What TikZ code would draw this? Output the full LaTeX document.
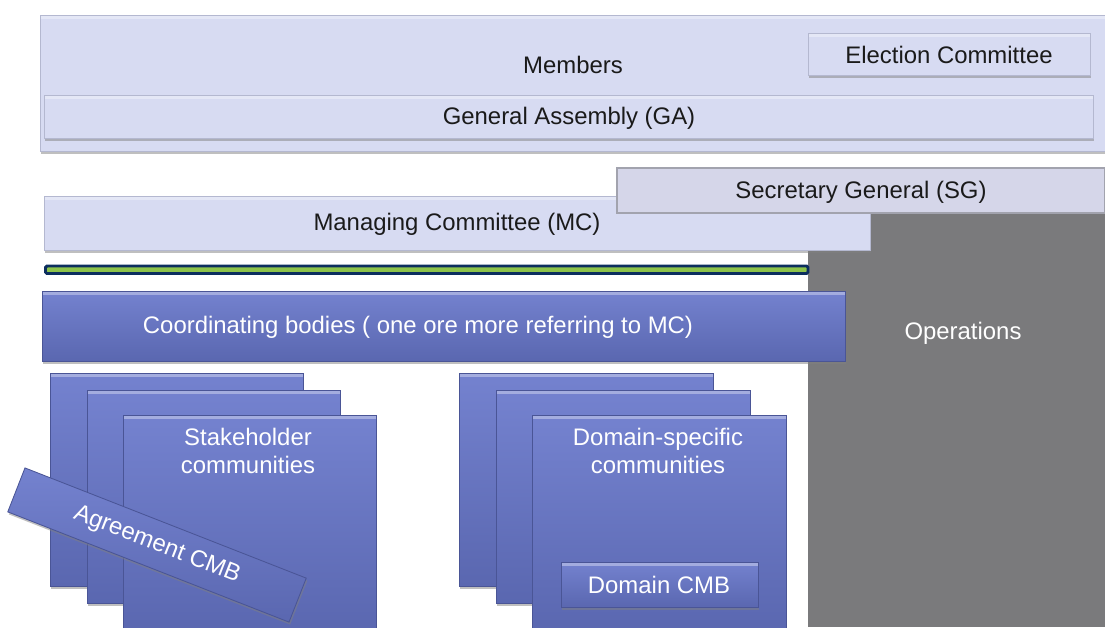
\documentclass[tikz,border=0pt]{standalone}
\usepackage{fontspec}
\setmainfont{Liberation Sans}
\usetikzlibrary{shadows}

\definecolor{lavfill}{HTML}{D7DBF2}
\definecolor{lavedge}{HTML}{B4B8D0}
\definecolor{sgfill}{HTML}{D5D6E9}
\definecolor{sgedge}{HTML}{A2A3AE}
\definecolor{bluetop}{HTML}{7482CF}
\definecolor{bluebot}{HTML}{5A67B0}
\definecolor{blueedge}{HTML}{4A5596}
\definecolor{opsgrey}{HTML}{7A7A7C}
\definecolor{linegreen}{HTML}{8DC34A}
\definecolor{linenavy}{HTML}{0C2E5E}
\definecolor{textdark}{HTML}{1A1A1A}

\tikzset{
  bevel/.style={path picture={
    \fill[white, opacity=0.35] (path picture bounding box.north west)
      rectangle ([yshift=-2.5pt]path picture bounding box.north east);}},
  lavbox/.style={fill=lavfill, draw=lavedge, line width=0.6pt, bevel,
    drop shadow={shadow xshift=0.8pt, shadow yshift=-1.8pt, opacity=0.5}},
  sgbox/.style={fill=sgfill, draw=sgedge, line width=1.2pt},
  bluebar/.style={top color=bluetop, bottom color=bluebot, draw=blueedge, line width=0.6pt,
    drop shadow={shadow xshift=0.8pt, shadow yshift=-1.8pt, opacity=0.5}},
  bluebox/.style={bluebar, bevel},
  darktext/.style={text=textdark, font=\fontsize{17}{20.5}\selectfont},
  lighttext/.style={text=white, font=\fontsize{17}{20.5}\selectfont, align=center},
}

\begin{document}
\begin{tikzpicture}[x=0.025cm, y=-0.025cm]
\useasboundingbox (0,0) rectangle (1105,627);

% top layer
\draw[lavbox] (40,15) rectangle (1105,151);
\node[darktext] (members) at (573,65) {Members};
\draw[lavbox] (808,33) rectangle (1090,75);
\node[darktext] (election) at (949,55) {Election Committee};
\draw[lavbox] (44,95) rectangle (1093,138);
\node[darktext] (ga) at (569,118) {General Assembly (GA)};

% operations
\fill[opsgrey] (808,212) rectangle (1105,627);
\node[lighttext] (operations) at (963,333) {Operations};

% managing committee and secretary general
\draw[lavbox] (44,196) rectangle (870,250);
\node[darktext] (mc) at (457,224) {Managing Committee (MC)};
\draw[sgbox] (617,168) rectangle (1105,213);
\node[darktext] (sg) at (861,192) {Secretary General (SG)};

\draw[linenavy, line width=2.1pt, fill=linegreen, rounded corners=1pt] (45.5,266) rectangle (808,273.5);

% coordinating bodies
\draw[bluebox] (42,291) rectangle (845,361);
\node[lighttext] (coord) at (418,327) {Coordinating bodies ( one ore more referring to MC)};

% stakeholder stack
\draw[bluebox] (50,373) rectangle (303,586);
\draw[bluebox] (87,390) rectangle (340,603);
\draw[bluebox] (123,415) rectangle (376,632);
\node[lighttext] (stake) at (248,451) {Stakeholder\\communities};
\node[bluebar, lighttext, rotate=-21.4, minimum width=7.55cm, minimum height=1.18cm,
  inner sep=0pt] (agree) at (157,545) {Agreement CMB};

% domain stack
\draw[bluebox] (459,373) rectangle (713,586);
\draw[bluebox] (496,390) rectangle (750,603);
\draw[bluebox] (532,415) rectangle (786,632);
\node[lighttext] (domain) at (658,451) {Domain-specific\\communities};
\draw[bluebox] (561,562) rectangle (758,607);
\node[lighttext] (dcmb) at (659,585) {Domain CMB};

\end{tikzpicture}
\end{document}
